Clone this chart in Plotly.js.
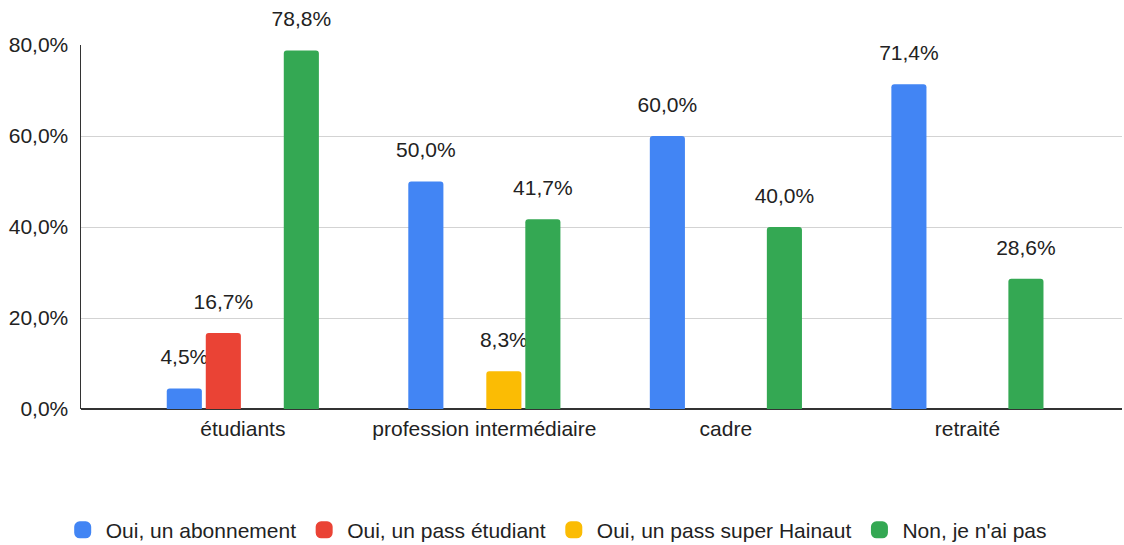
<!DOCTYPE html>
<html>
<head>
<meta charset="utf-8">
<script src="https://cdn.plot.ly/plotly-3.0.1.min.js"></script>
<style>
  html, body { margin: 0; padding: 0; background: #fff; }
  #graph { width: 1124px; height: 545px; }
</style>
</head>
<body>
<div id="graph"></div>
<script>
const categories = ["étudiants", "profession intermédiaire", "cadre", "retraité"];

const series_names = [
  "Oui, un abonnement",
  "Oui, un pass étudiant",
  "Oui, un pass super Hainaut",
  "Non, je n'ai pas"
];

// values in %, null = no bar in the picture
const abonnement = [4.5, 50.0, 60.0, 71.4];
const pass_etudiant = [16.7, null, null, null];
const pass_hainaut = [null, 8.3, null, null];
const non = [78.8, 41.7, 40.0, 28.6];

const y_ticks = [0, 20, 40, 60, 80];
const y_tick_labels = ["0,0%", "20,0%", "40,0%", "60,0%", "80,0%"];

const my_palette = ["#4285F4", "#EA4335", "#FBBC04", "#34A853"];
const all_values = [abonnement, pass_etudiant, pass_hainaut, non];

const font_family = "Liberation Sans, Arial, sans-serif";
const font_size = 21;

const traces = all_values.map((vals, i) => ({
  type: 'bar',
  x: categories,
  y: vals,
  name: series_names[i],
  marker: {color: my_palette[i]},
  // small blank second line lifts the label a bit above the bar
  texttemplate: '<span style="font-size:21px">%{y:.1f}%</span><br>\u00a0',
  textposition: 'outside',
  constraintext: 'none',
  cliponaxis: false,
  textfont: {family: font_family, size: 14, color: '#222222'},
  showlegend: false,
  hoverinfo: 'name+y'
}));

// legend-only copies on a hidden axis, thick outline = bigger legend square
const legend_traces = series_names.map((name, i) => ({
  type: 'bar',
  x: [categories[0]],
  y: [null],
  name: name,
  xaxis: 'x2',
  yaxis: 'y2',
  marker: {color: my_palette[i], line: {color: my_palette[i], width: 8}},
  showlegend: true
}));

const layout = {
  width: 1124,
  height: 545,
  margin: {l: 81, r: 2, t: 45, b: 136, autoexpand: false},
  separators: ', ',
  barmode: 'group',
  bargap: 0.354,
  bargroupgap: 0.1,
  barcornerradius: 3,
  paper_bgcolor: '#ffffff',
  plot_bgcolor: '#ffffff',
  font: {family: font_family, size: font_size, color: '#222222'},
  xaxis: {
    type: 'category',
    range: [-0.67, 3.64],
    showgrid: false,
    showline: false,
    ticks: '',
    ticklabelstandoff: 5,
    tickfont: {family: font_family, size: font_size, color: '#222222'}
  },
  yaxis: {
    range: [0, 80],
    tickvals: y_ticks,
    ticktext: y_tick_labels,
    gridcolor: '#d3d3d3',
    gridwidth: 1,
    zeroline: true,
    zerolinecolor: '#333333',
    zerolinewidth: 1.5,
    showline: true,
    linecolor: '#333333',
    linewidth: 1.5,
    ticks: '',
    ticklabelstandoff: 7,
    tickfont: {family: font_family, size: font_size, color: '#222222'}
  },
  xaxis2: {type: 'category', overlaying: 'x', visible: false},
  yaxis2: {overlaying: 'y', visible: false, range: [0, 1]},
  showlegend: true,
  legend: {
    orientation: 'h',
    x: 0.456,
    xanchor: 'center',
    y: -0.333,
    yanchor: 'middle',
    itemwidth: 36,
    tracegroupgap: 0,
    font: {family: font_family, size: font_size, color: '#222222'},
    itemclick: false
  }
};

Plotly.newPlot('graph', [...traces, ...legend_traces], layout, {displayModeBar: false, staticPlot: true});
</script>
</body>
</html>
